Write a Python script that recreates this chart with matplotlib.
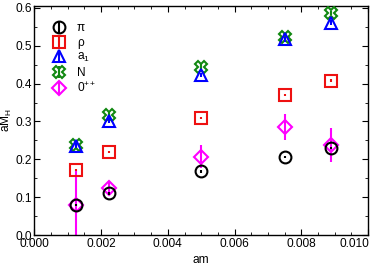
import numpy as np
import matplotlib
matplotlib.use('Agg')
import matplotlib.pyplot as plt
from matplotlib.ticker import MultipleLocator, FuncFormatter, FormatStrFormatter
import matplotlib.transforms as mtransforms

plt.rcParams['font.family'] = ['Liberation Sans', 'DejaVu Sans']
plt.rcParams['mathtext.fontset'] = 'custom'
plt.rcParams['mathtext.rm'] = 'Liberation Sans'
plt.rcParams['mathtext.it'] = 'Liberation Sans:italic'

am = [0.00125, 0.00225, 0.005, 0.0075, 0.0089]

pi_m = [0.080, 0.110, 0.168, 0.207, 0.229]
pi_e = [0.003, 0.003, 0.003, 0.003, 0.003]
rho_m = [0.172, 0.219, 0.310, 0.370, 0.408]
rho_e = [0.003, 0.003, 0.003, 0.003, 0.003]
a1_m = [0.236, 0.302, 0.423, 0.517, 0.561]
a1_e = [0.006, 0.006, 0.006, 0.006, 0.006]
n_m = [0.238, 0.318, 0.445, 0.522, 0.586]
n_e = [0.006, 0.006, 0.006, 0.006, 0.006]
s_m = [0.080, 0.125, 0.207, 0.286, 0.238]
s_e = [0.090, 0.015, 0.030, 0.035, 0.045]

fs = 8.6

fig = plt.figure(figsize=(3.74, 2.69), dpi=100)
ax = fig.add_axes([0.092, 0.126, 0.892, 0.852])

ms = 8.5
mew = 1.5
h5 = ax.errorbar(am, s_m, yerr=s_e, fmt='D', color='#ff00ff', mfc='none', ms=7.5, mew=mew,
                 elinewidth=1.5, capsize=0, zorder=2, label='0$^{++}$')
h1 = ax.errorbar(am, pi_m, yerr=pi_e, fmt='o', color='black', mfc='none', ms=ms, mew=mew,
                 elinewidth=1.5, capsize=0, zorder=3, label='π')
h2 = ax.errorbar(am, rho_m, yerr=rho_e, fmt='s', color='#ee1111', mfc='none', ms=ms, mew=mew,
                 elinewidth=1.5, capsize=0, zorder=3, label='ρ')
h4 = ax.errorbar(am, n_m, yerr=n_e, fmt='X', color='#118811', mfc='none', ms=ms, mew=mew,
                 elinewidth=1.5, capsize=0, zorder=3, label='N')
h3 = ax.errorbar(am, a1_m, yerr=a1_e, fmt='^', color='#0000ff', mfc='none', ms=ms, mew=mew,
                 elinewidth=1.5, capsize=0, zorder=4, label='a$_1$')

ax.set_xlim(0, 0.010)
ax.set_ylim(0, 0.605)
ax.xaxis.set_major_locator(MultipleLocator(0.002))
ax.xaxis.set_minor_locator(MultipleLocator(0.0005))
ax.yaxis.set_major_locator(MultipleLocator(0.1))
ax.yaxis.set_minor_locator(MultipleLocator(0.05))
# last x label is drawn separately, right-aligned to the axes edge
ax.xaxis.set_major_formatter(FuncFormatter(lambda v, p: '' if v > 0.0099 else '%.3f' % v))
ax.yaxis.set_major_formatter(FormatStrFormatter('%.1f'))
ax.tick_params(which='both', direction='in', top=True, right=True, labelsize=fs, pad=2)
ax.tick_params(which='major', length=4, width=0.8)
ax.tick_params(which='minor', length=2, width=0.6)
for s in ax.spines.values():
    s.set_linewidth(1.0)

off = mtransforms.offset_copy(ax.transAxes, fig=fig, x=0, y=-2, units='points')
ax.text(1.003, 0, '0.010', transform=off, ha='right', va='top', fontsize=fs)

ax.set_xlabel('am', fontsize=fs, labelpad=3)
ax.set_ylabel('aM$_\\mathrm{H}$', fontsize=fs, labelpad=1)

ax.legend(handles=[h1, h2, h3, h4, h5], loc='upper left', frameon=False, fontsize=fs,
          handlelength=1.0, handletextpad=1.0, labelspacing=0.2, borderaxespad=0.6,
          bbox_to_anchor=(0.02, 0.98))

fig.savefig('out.png', dpi=100)
